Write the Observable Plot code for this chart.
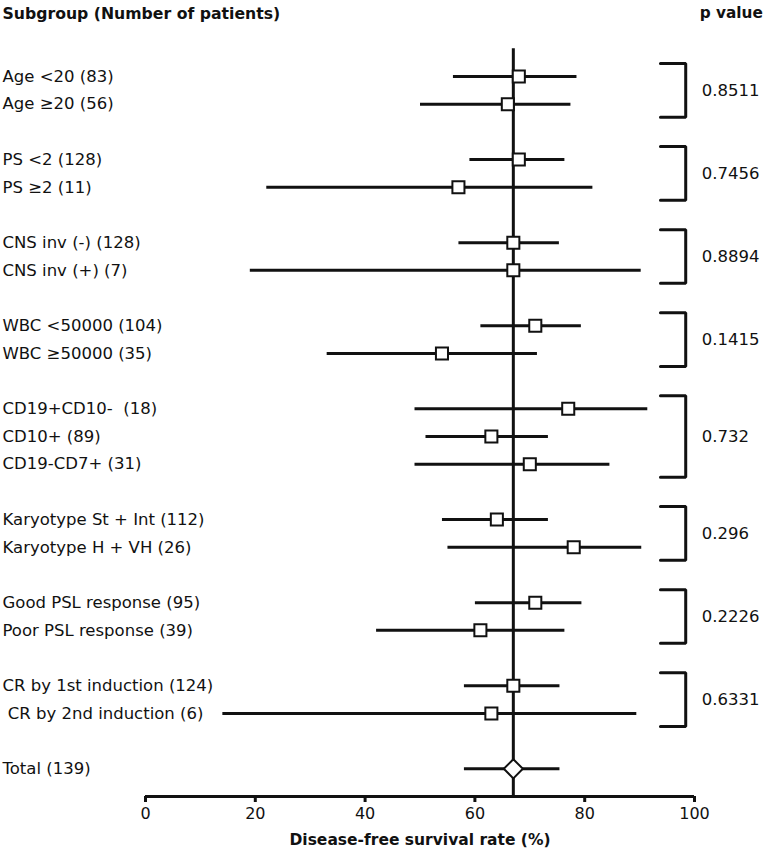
<!DOCTYPE html>
<html><head><meta charset="utf-8">
<script src="https://cdn.jsdelivr.net/npm/d3@7"></script>
<script src="https://cdn.jsdelivr.net/npm/@observablehq/plot@0.6"></script>
<style>
body{margin:0;background:#fff}
#chart svg{font-family:"DejaVu Sans",sans-serif;background:#fff}
</style>
</head><body><div id="chart"></div>
<script>
// ---- data ----
const labels = [
  "Age <20 (83)", "Age \u226520 (56)",
  "PS <2 (128)", "PS \u22652 (11)",
  "CNS inv (-) (128)", "CNS inv (+) (7)",
  "WBC <50000 (104)", "WBC \u226550000 (35)",
  "CD19+CD10-\u00a0\u00a0(18)", "CD10+ (89)", "CD19-CD7+ (31)",
  "Karyotype St + Int (112)", "Karyotype H + VH (26)",
  "Good PSL response (95)", "Poor PSL response (39)",
  "CR by 1st induction (124)", "\u00a0CR by 2nd induction (6)"
];
const estimates = [68, 66, 68, 57, 67, 67, 71, 54, 77, 63, 70, 64, 78, 71, 61, 67, 63];
const lower     = [56, 50, 59, 22, 57, 19, 61, 33, 49, 51, 49, 54, 55, 60, 42, 58, 14];
const upper     = [78.5, 77.4, 76.3, 81.4, 75.3, 90.2, 79.3, 71.3, 91.4, 73.3, 84.5, 73.3, 90.3, 79.4, 76.3, 75.4, 89.4];
const groupOf   = [0, 0, 1, 1, 2, 2, 3, 3, 4, 4, 4, 5, 5, 6, 6, 7, 7];
const pValues   = ["0.8511", "0.7456", "0.8894", "0.1415", "0.732", "0.296", "0.2226", "0.6331"];
const totalLabel = "Total (139)";
const totalEst = 67, totalLower = 58, totalUpper = 75.4;
const xTicks = [0, 20, 40, 60, 80, 100];
const headerLeft = "Subgroup (Number of patients)";
const headerRight = "p value";
const xTitle = "Disease-free survival rate (%)";

// ---- derived tables ----
const rows = labels.map((label, i) => ({
  label, est: estimates[i], lo: lower[i], hi: upper[i], group: groupOf[i], row: i + groupOf[i]
}));
const lastRow = d3.max(rows, d => d.row);
const totalRow = {label: totalLabel, est: totalEst, lo: totalLower, hi: totalUpper, row: lastRow + 2};
const allRows = rows.concat([totalRow]);
const axisRow = totalRow.row + 1;

const bx0 = 100 - 6.2, bx1 = 100 - 1.6; // bracket extents (x units)
const groups = pValues.map((p, g) => {
  const rs = rows.filter(d => d.group === g).map(d => d.row);
  return {p, g, top: d3.min(rs) - 0.47, bottom: d3.max(rs) + 0.47, mid: (d3.min(rs) + d3.max(rs)) / 2};
});
const bracketPts = groups.flatMap(b => [
  {g: b.g, x: bx0, y: b.top}, {g: b.g, x: bx1, y: b.top},
  {g: b.g, x: bx1, y: b.bottom}, {g: b.g, x: bx0, y: b.bottom}
]);

const FS = 16.5;
const chart = Plot.plot({
  width: 766, height: 857,
  marginTop: 0, marginLeft: 0, marginRight: 0, marginBottom: 61,
  x: {domain: [0, 100], range: [145, 694]},
  y: {domain: [0, axisRow], range: [76, 796], axis: null},
  style: {fontSize: FS + "px", fontFamily: "DejaVu Sans, sans-serif", color: "#111"},
  marks: [
    // reference vertical line at overall estimate
    Plot.ruleX([totalEst], {y1: -1, y2: axisRow, stroke: "#111", strokeWidth: 3}),
    // axis line
    Plot.ruleY([axisRow], {x1: 0, x2: 100, stroke: "#111", strokeWidth: 3}),
    Plot.axisX(xTicks, {anchor: "bottom", tickSize: 6, tickPadding: 5, strokeWidth: 3, fontSize: 16, label: null, color: "#111"}),
    // CIs
    Plot.link(allRows, {x1: "lo", x2: "hi", y1: "row", y2: "row", stroke: "#111", strokeWidth: 3}),
    // estimates
    Plot.dot(rows, {x: "est", y: "row", symbol: "square", r: 6.8, fill: "white", stroke: "#111", strokeWidth: 2}),
    Plot.dot([totalRow], {x: "est", y: "row", symbol: "diamond2", r: 8.6, fill: "white", stroke: "#111", strokeWidth: 2}),
    // labels
    Plot.text(allRows, {y: "row", text: "label", frameAnchor: "left", textAnchor: "start", dx: 2, fill: "#111"}),
    // brackets
    Plot.line(bracketPts, {x: "x", y: "y", z: "g", stroke: "#111", strokeWidth: 3, strokeLinejoin: "miter", curve: "linear"}),
    Plot.text(groups, {x: bx1, y: "mid", text: "p", textAnchor: "start", dx: 16, fill: "#111"}),
    // headers
    Plot.text([headerLeft], {frameAnchor: "top-left", textAnchor: "start", lineAnchor: "middle", dx: 2, dy: 13, fontWeight: "bold", fontSize: 15.7, fill: "#111"}),
    Plot.text([headerRight], {x: bx1, frameAnchor: "top", textAnchor: "start", lineAnchor: "middle", dx: 14, dy: 13, fontWeight: "bold", fontSize: 15.3, fill: "#111"}),
    // x title
    Plot.text([xTitle], {x: d3.mean(xTicks.filter((t, i) => i === 0 || i === xTicks.length - 1)), frameAnchor: "bottom", lineAnchor: "middle", dy: 44, fontWeight: "bold", fontSize: 15.5, fill: "#111"})
  ]
});
document.getElementById("chart").append(chart);
</script>
</body></html>
